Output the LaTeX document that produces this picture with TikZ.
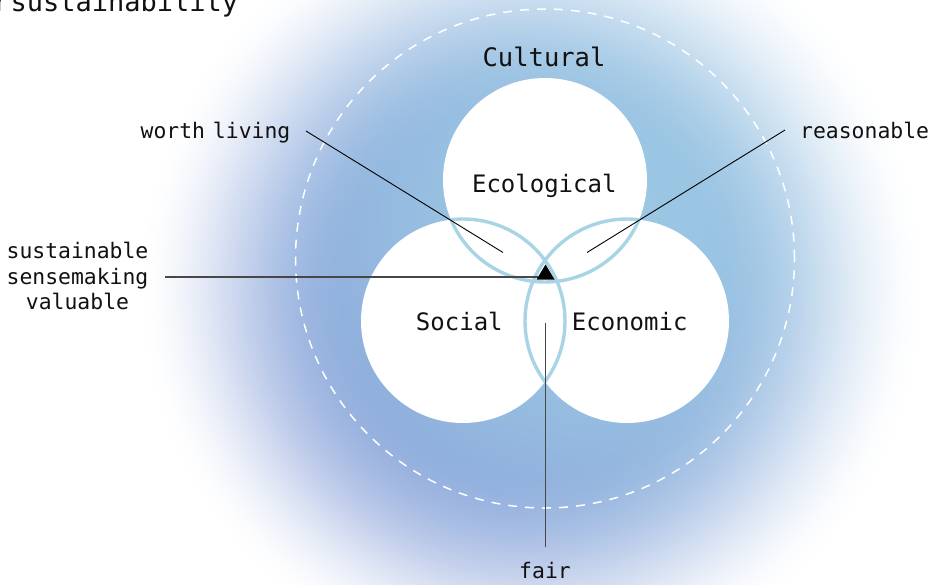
\documentclass[tikz,border=0pt]{standalone}
\usepackage{fontspec}
\setmonofont{DejaVu Sans Mono}
\usetikzlibrary{calc}
% background blob: pale cyan in the middle and to the upper right, periwinkle
% towards the lower left rim, fading to white (the path's box maps to -25bp..25bp)
\pgfdeclarefunctionalshading{blobfun}{\pgfpoint{-50bp}{-50bp}}{\pgfpoint{50bp}{50bp}}{}{
  2 copy add 70.7 div 0.5 add
  3 1 roll
  dup mul exch dup mul add sqrt 25 div
  dup 0.55 exch sub 0.8 mul
  3 -1 roll add
  dup 0 lt {pop 0} if dup 1 gt {pop 1} if
  exch
  1 exch sub 0.55 div
  dup 0 lt {pop 0} if dup 1 gt {pop 1} if
  dup dup mul exch 2 mul 3 exch sub mul
  1 index -0.08 mul 0.46 add
  1 index mul 1 exch sub
  2 index -0.18 mul 0.37 add
  2 index mul 1 exch sub
  3 index -0.05 mul 0.15 add
  3 index mul 1 exch sub
  5 -2 roll pop pop
}
\definecolor{lens}{HTML}{A8D4E6}
\definecolor{inkc}{HTML}{111111}
\definecolor{leadc}{HTML}{474747}
\def\circR{102pt}
\tikzset{
  lab/.style={font=\ttfamily\fontsize{21.4}{25.8}\selectfont, text=inkc, inner sep=0pt},
  biglab/.style={font=\ttfamily\fontsize{24}{28}\selectfont, text=inkc, inner sep=0pt},
  setc/.style={fill=white},
  lensline/.style={draw=lens, line width=3.4pt},
  thinlead/.style={draw=black, line width=0.9pt},
  thicklead/.style={draw=leadc, line width=1.5pt},
  dashring/.style={draw=white, line width=1.5pt, dash pattern=on 9pt off 8pt}
}
\begin{document}
\begin{tikzpicture}[x=1pt,y=-1pt]
\useasboundingbox (0,0) rectangle (931,584);
\fill[white] (0,0) rectangle (931,584);
% background blob
\coordinate (blob) at (532,286);
\shade[shading=blobfun] (blob) circle[radius=398pt];
% dashed ring
\coordinate (ring) at (545,258.5);
\draw[dashring] (ring) circle[radius=249.5pt];
% circle centres
\coordinate (eco) at (545,180);
\coordinate (soc) at (463,321);
\coordinate (econ) at (627,321);
\fill[setc] (eco) circle[radius=\circR];
\fill[setc] (soc) circle[radius=\circR];
\fill[setc] (econ) circle[radius=\circR];
% lens outlines
\begin{scope}
  \clip (soc) circle[radius=\circR] (econ) circle[radius=\circR];
  \draw[lensline] (eco) circle[radius=\circR];
\end{scope}
\begin{scope}
  \clip (eco) circle[radius=\circR] (econ) circle[radius=\circR];
  \draw[lensline] (soc) circle[radius=\circR];
\end{scope}
\begin{scope}
  \clip (eco) circle[radius=\circR] (soc) circle[radius=\circR];
  \draw[lensline] (econ) circle[radius=\circR];
\end{scope}
% labels
\node[lab, font=\ttfamily\fontsize{27}{32}\selectfont, anchor=base west] (title) at (-7,11.7) {r\kern-15pt\ sustainability};
\node[lab, font=\ttfamily\fontsize{25.5}{30}\selectfont, anchor=base] (cult) at (544,66) {Cultural};
\node[biglab, anchor=base] (ecol) at (544.3,192.3) {Ecological};
\node[biglab, anchor=base] (soct) at (459.3,330.7) {Social};
\node[biglab, anchor=base] (econt) at (629.7,330.7) {Economic};
\node[lab, anchor=base east] (worth) at (290.5,138) {worth\kern-5pt\ living};
\node[lab, anchor=base west] (reas) at (800,138) {reasonable};
\node[lab, align=center, anchor=center] (sense) at (77.5,276) {sustainable\\sensemaking\\valuable};
\node[lab, anchor=base] (fair) at (545,578) {fair};
% leader lines
\coordinate (wA) at (306,131);
\coordinate (wB) at (503,252.5);
\coordinate (rA) at (785,130);
\coordinate (rB) at (587,252.5);
\coordinate (hA) at (165,277);
\coordinate (hB) at (538,277);
\coordinate (vA) at (545.3,322.5);
\coordinate (vB) at (545.3,547);
\draw[thinlead] (wA) -- (wB);
\draw[thinlead] (rA) -- (rB);
\draw[thicklead] (hA) -- (hB);
\draw[thicklead] (vA) -- (vB);
% centre marker
\coordinate (tri) at (545.5,274);
\fill[black] ($(tri)+(0,-9.5)$) -- ($(tri)+(-9,5.5)$) -- ($(tri)+(9,5.5)$) -- cycle;
\end{tikzpicture}
\end{document}
